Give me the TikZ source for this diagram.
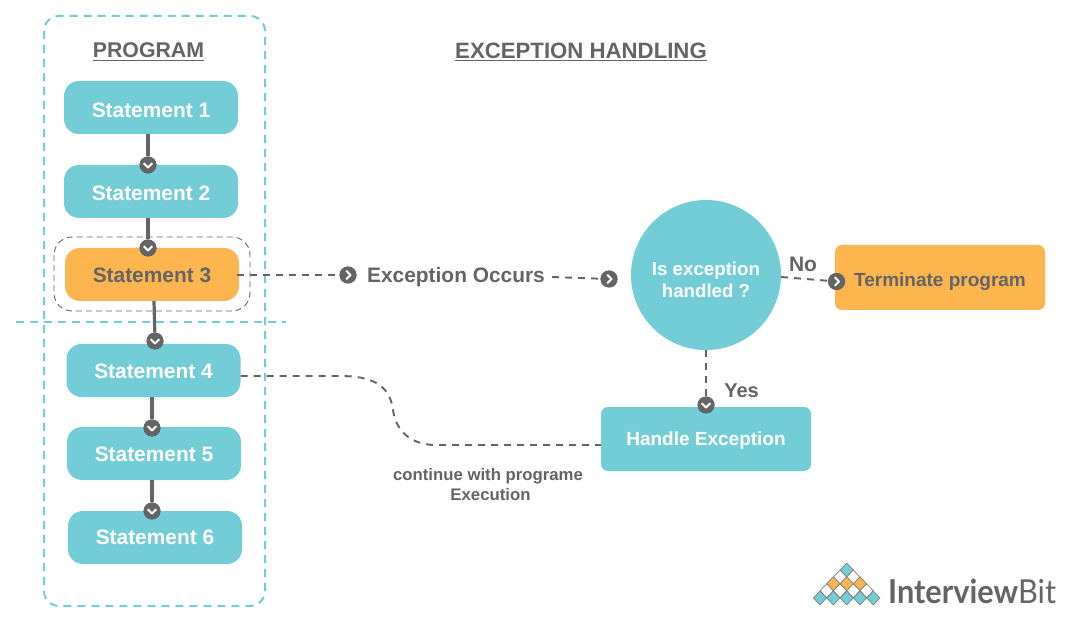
\documentclass[tikz,border=0pt]{standalone}
\usepackage{fontspec}
\setmainfont{Liberation Sans}
\newfontfamily\logofont[FakeStretch=0.93]{Lato}
\usetikzlibrary{calc}
\definecolor{tealc}{HTML}{73CDD6}
\definecolor{orangec}{HTML}{FDB64F}
\definecolor{greyc}{HTML}{646464}
\newcommand{\fs}[1]{\fontsize{#1}{#1}\selectfont\bfseries}
\newcommand{\lowered}[2]{\smash{\raisebox{-#1pt}{#2}}}
\tikzset{
 x=1pt,y=-1pt,
 stmt/.style={rounded corners=15pt,fill=tealc,text=white,minimum width=174pt,minimum height=53pt,inner sep=0pt,font=\fs{20.9}},
 stmtorange/.style={stmt,fill=orangec,text=greyc},
 bigbox/.style={rounded corners=7pt,minimum width=210pt,inner sep=0pt,font=\fs{19}},
 mark dot/.style={circle,fill=greyc,minimum size=17pt,inner sep=0pt},
 solidlink/.style={greyc,line width=3.2pt},
 dashlink/.style={greyc,line width=1.9pt,dash pattern=on 7pt off 6pt},
 tealdash/.style={tealc,line width=2pt,dash pattern=on 8pt off 6pt},
 txt/.style={text=greyc,inner sep=0pt},
 dia/.style={draw=gray,line width=0.7pt},
}
\newcommand{\dmd}[3]{\fill[#3,dia] (#1-6.6,#2) -- (#1,#2-6.9) -- (#1+6.6,#2) -- (#1,#2+6.9) -- cycle;}
\newcommand{\chevdown}[1]{\draw[white,line width=1.9pt] ($(#1)+(-4.4,-1.8)$) -- ($(#1)+(0,2.4)$) -- ($(#1)+(4.4,-1.8)$);}
\newcommand{\chevright}[1]{\draw[white,line width=1.9pt] ($(#1)+(-1.8,-4.4)$) -- ($(#1)+(2.4,0)$) -- ($(#1)+(-1.8,4.4)$);}
\begin{document}
\begin{tikzpicture}
\useasboundingbox (0,0) rectangle (1074,628);
\fill[white] (0,0) rectangle (1074,628);
% frames
\draw[tealdash,rounded corners=15pt] (44,16) rectangle (265,606);
\coordinate (hl) at (16,322); \coordinate (hr) at (286,322);
\draw[tealdash] (hl) -- (hr);
\draw[greyc,line width=0.9pt,dash pattern=on 6pt off 4pt,rounded corners=18pt] (54,237) rectangle (250,311);
% titles
\node[txt,font=\fs{21.3}] (tp) at (148.5,50.5) {PROGRAM};
\draw[greyc,line width=1.6pt] (93,60.5) -- (204,60.5);
\node[txt,font=\fs{22.2}] (te) at (581,51) {EXCEPTION HANDLING};
\draw[greyc,line width=1.6pt] (455,60.5) -- (707,60.5);
% statements
\node[stmt] (s1) at (151,107.5) {\lowered{10}{Statement 1}};
\node[stmt] (s2) at (151,191.5) {\lowered{9}{Statement 2}};
\node[stmtorange] (s3) at (152,274.5) {\lowered{8.2}{Statement 3}};
\node[stmt] (s4) at (153.5,370.5) {\lowered{8}{Statement 4}};
\node[stmt] (s5) at (154,453.5) {\lowered{8}{Statement 5}};
\node[stmt] (s6) at (155,537.5) {\lowered{7.2}{Statement 6}};
% right side
\node[circle,fill=tealc,minimum size=150pt,inner sep=0pt,text=white] (q) at (706,275) {};
\node[txt,text=white,align=center,font=\fs{18.7}] (qt) at (706,280) {Is exception\\[3.5pt]handled ?};
\node[bigbox,fill=orangec,text=greyc,minimum height=65pt] (term) at (940,277.5) {\lowered{9}{Terminate program}};
\node[bigbox,fill=tealc,text=white,minimum height=64pt] (hand) at (706,439) {\lowered{6.5}{Handle Exception}};
% markers
\node[mark dot] (m1) at (148,165) {};
\node[mark dot] (m2) at (148,248) {};
\node[mark dot] (m3) at (155,341) {};
\node[mark dot] (m4) at (152,428) {};
\node[mark dot] (m5) at (152,511) {};
\node[mark dot] (mx) at (348,275) {};
\node[mark dot] (mq) at (609,279) {};
\node[mark dot] (mt) at (836.5,281.5) {};
\node[mark dot] (mh) at (706,405) {};
\node[txt,font=\fs{20.9}] (occ) at (456,277) {Exception Occurs};
\node[txt,font=\fs{21}] (no) at (803,264) {No};
\node[txt,font=\fs{20}] (yes) at (741.5,391) {Yes};
\node[txt,align=center,font=\fs{16.75}] (cont) at (488,484.5) {continue with programe\\[3pt]\hspace*{5pt}Execution};
% solid connectors
\draw[solidlink] (148,134) -- (m1);
\draw[solidlink] (148,218) -- (m2);
\draw[solidlink] (154,301) -- (m3);
\draw[solidlink] (152,397) -- (m4);
\draw[solidlink] (152,480) -- (m5);
% dashed connectors
\draw[dashlink] (s3.east) ++(-2,0.5) -- (mx);
\draw[dashlink] (occ.east) ++(7,0) -- (mq);
\draw[dashlink] (q.east) ++(0,2) -- (mt);
\draw[dashlink] (q.south) -- (mh);
\draw[dashlink] ([yshift=-5.5pt]s4.east) -- (340,376) .. controls (372,376) and (390,385) .. (393,410) .. controls (396,432) and (412,445) .. (436,445) -- ([yshift=-6pt]hand.west);
% marker discs above lines
\foreach \m in {m1,m2,m3,m4,m5,mh}{\fill[greyc] (\m) circle (8.5pt); \chevdown{\m}}
\foreach \m in {mx,mq,mt}{\fill[greyc] (\m) circle (8.5pt); \chevright{\m}}
% logo
\dmd{846.7}{570}{tealc}
\dmd{840}{577}{white}\dmd{853.3}{577}{white}
\dmd{833.3}{583.7}{orangec}\dmd{846.7}{583.7}{orangec}\dmd{860}{583.7}{orangec}
\dmd{826.7}{590.7}{white}\dmd{840}{590.7}{white}\dmd{853.3}{590.7}{white}\dmd{866.7}{590.7}{white}
\dmd{820}{598}{tealc}\dmd{833.3}{598}{tealc}\dmd{846.7}{598}{tealc}\dmd{860}{598}{tealc}\dmd{873.3}{598}{tealc}
\node[anchor=base west,inner sep=0pt,text=greyc] (logo) at (888,603.5) {\fontsize{33}{33}\logofont\bfseries Interview\mdseries Bit};
\end{tikzpicture}
\end{document}
